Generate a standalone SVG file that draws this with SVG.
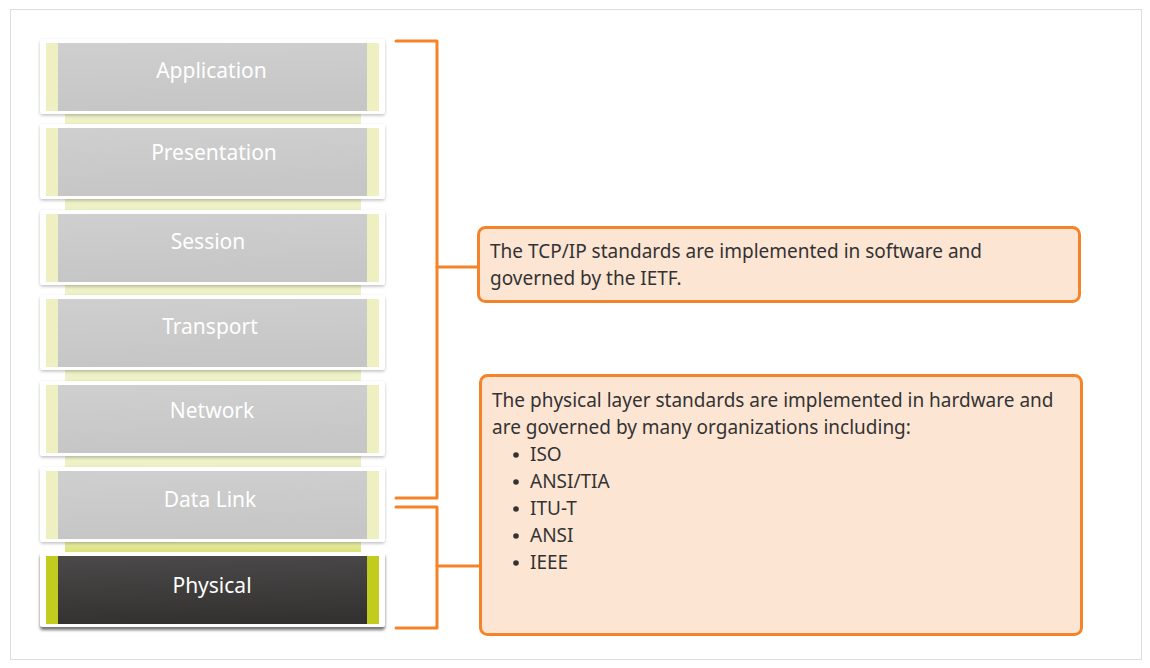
<svg xmlns="http://www.w3.org/2000/svg" width="1150" height="668" viewBox="0 0 1150 668">
<defs>
<style>
.lbl{font-family:"Noto Sans","Open Sans","Liberation Sans",sans-serif;font-size:21px;fill:#ffffff;text-anchor:middle}
.txt{font-family:"Noto Sans","Open Sans","Liberation Sans",sans-serif;font-size:19px;fill:#333333}
.card{fill:#ffffff}
.band{fill:#eef0c2}
.gray{fill:url(#gGray)}
.strip{fill:#eef0c6}
.br{fill:none;stroke:#f5832a;stroke-width:3;stroke-linejoin:round;stroke-linecap:round}
.box{fill:#fde5d4;stroke:#f5832a;stroke-width:3}
.dot{fill:#333333}
</style>
<linearGradient id="gGray" x1="0" y1="0" x2="0.15" y2="1">
<stop offset="0" stop-color="#cfcfcf"/>
<stop offset="1" stop-color="#c6c6c6"/>
</linearGradient>
<linearGradient id="gDark" x1="0" y1="0" x2="0.1" y2="1">
<stop offset="0" stop-color="#4b4949"/>
<stop offset="1" stop-color="#343131"/>
</linearGradient>
<linearGradient id="gStrip" x1="0" y1="0" x2="0" y2="1">
<stop offset="0" stop-color="#eef0c6"/>
<stop offset="1" stop-color="#d8df5e"/>
</linearGradient>
<filter id="sh" x="-5%" y="-10%" width="110%" height="130%">
<feDropShadow dx="0" dy="1.5" stdDeviation="1.5" flood-color="#000" flood-opacity="0.25"/>
</filter>
<filter id="shD" x="-5%" y="-10%" width="110%" height="130%">
<feDropShadow dx="0" dy="3" stdDeviation="1.5" flood-color="#000" flood-opacity="0.55"/>
</filter>
</defs>

<rect x="10.5" y="9.5" width="1131" height="650" fill="#ffffff" stroke="#dddddd" stroke-width="1"/>

<g id="strips">
<rect class="strip" x="65" y="110" width="296" height="18"/>
<rect class="strip" x="65" y="195" width="296" height="19"/>
<rect class="strip" x="65" y="281" width="296" height="18"/>
<rect class="strip" x="65" y="366" width="296" height="19"/>
<rect class="strip" x="65" y="452" width="296" height="19"/>
<rect fill="url(#gStrip)" x="65" y="538" width="296" height="18"/>
</g>

<g id="application">
<rect class="card" x="40" y="39" width="345" height="75" rx="3" filter="url(#sh)"/>
<rect class="band" x="46" y="43" width="333" height="68"/>
<rect class="gray" x="58" y="43" width="309" height="68"/>
<text class="lbl" x="211.5" y="78">Application</text>
</g>
<g id="presentation">
<rect class="card" x="40" y="124" width="345" height="75" rx="3" filter="url(#sh)"/>
<rect class="band" x="46" y="128" width="333" height="68"/>
<rect class="gray" x="58" y="128" width="309" height="68"/>
<text class="lbl" x="214" y="160">Presentation</text>
</g>
<g id="session">
<rect class="card" x="40" y="210" width="345" height="75" rx="3" filter="url(#sh)"/>
<rect class="band" x="46" y="214" width="333" height="68"/>
<rect class="gray" x="58" y="214" width="309" height="68"/>
<text class="lbl" x="208" y="249">Session</text>
</g>
<g id="transport">
<rect class="card" x="40" y="295" width="345" height="75" rx="3" filter="url(#sh)"/>
<rect class="band" x="46" y="299" width="333" height="68"/>
<rect class="gray" x="58" y="299" width="309" height="68"/>
<text class="lbl" x="210" y="334">Transport</text>
</g>
<g id="network">
<rect class="card" x="40" y="381" width="345" height="75" rx="3" filter="url(#sh)"/>
<rect class="band" x="46" y="385" width="333" height="68"/>
<rect class="gray" x="58" y="385" width="309" height="68"/>
<text class="lbl" x="212" y="418">Network</text>
</g>
<g id="datalink">
<rect class="card" x="40" y="467" width="345" height="75" rx="3" filter="url(#sh)"/>
<rect class="band" x="46" y="471" width="333" height="68"/>
<rect class="gray" x="58" y="471" width="309" height="68"/>
<text class="lbl" x="210" y="507">Data Link</text>
</g>
<g id="physical">
<rect class="card" x="40" y="552" width="345" height="75" rx="3" filter="url(#shD)"/>
<rect fill="#c2cc1f" x="46" y="556" width="333" height="68"/>
<rect fill="url(#gDark)" x="58" y="556" width="309" height="68"/>
<text class="lbl" x="212" y="593">Physical</text>
</g>

<g id="connectors">
<polyline class="br" points="396,41 437,41 437,498 396,498"/>
<line class="br" x1="437" y1="267" x2="478" y2="267"/>
<polyline class="br" points="396,507 437,507 437,628 396,628"/>
<line class="br" x1="437" y1="566" x2="480" y2="566"/>
</g>

<g id="tcpip-note">
<rect class="box" x="478.5" y="227.5" width="601" height="74" rx="7"/>
<text class="txt" x="490" y="258">The TCP/IP standards are implemented in software and</text>
<text class="txt" x="490" y="285">governed by the IETF.</text>
</g>

<g id="physical-note">
<rect class="box" x="480.5" y="375.5" width="601" height="259" rx="7"/>
<text class="txt" x="492" y="407">The physical layer standards are implemented in hardware and</text>
<text class="txt" x="492" y="434">are governed by many organizations including:</text>
<circle class="dot" cx="516" cy="455" r="2.8"/>
<text class="txt" x="530" y="461">ISO</text>
<circle class="dot" cx="516" cy="482" r="2.8"/>
<text class="txt" x="530" y="488">ANSI/TIA</text>
<circle class="dot" cx="516" cy="509" r="2.8"/>
<text class="txt" x="530" y="515">ITU-T</text>
<circle class="dot" cx="516" cy="536" r="2.8"/>
<text class="txt" x="530" y="542">ANSI</text>
<circle class="dot" cx="516" cy="563" r="2.8"/>
<text class="txt" x="530" y="569">IEEE</text>
</g>
</svg>
